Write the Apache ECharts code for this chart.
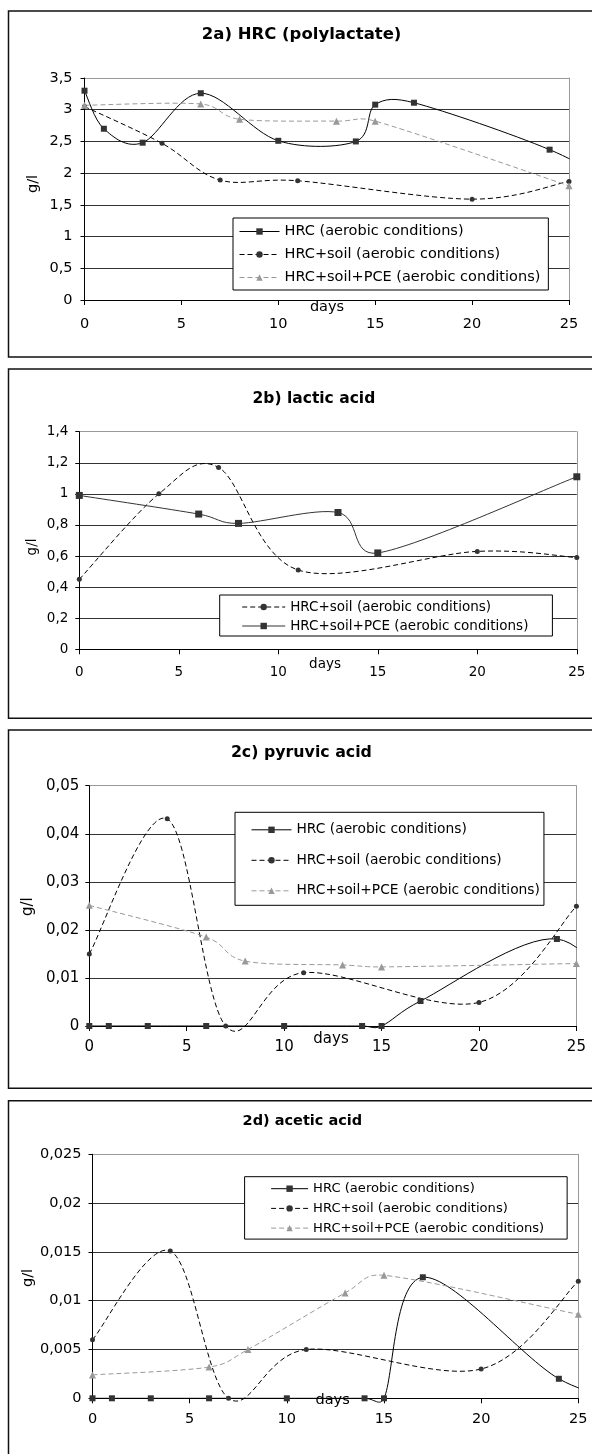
<!DOCTYPE html>
<html><head><meta charset="utf-8">
<script src="https://cdn.jsdelivr.net/npm/echarts@6/dist/echarts.min.js"></script>
<style>body{margin:0;background:#fff}.p{position:absolute;left:0;width:592px}</style>
</head><body>
<div id="c1" class="p" style="top:0;height:363px"></div>
<div id="c2" class="p" style="top:363px;height:361px"></div>
<div id="c3" class="p" style="top:724px;height:370px"></div>
<div id="c4" class="p" style="top:1094px;height:360px"></div>
<script>
// ---- data ----
const xTicks = [0, 5, 10, 15, 20, 25];
const daysHRC = [0, 1, 3, 6, 10, 14, 15, 17, 24, 28];
const daysSoil = [0, 4, 7, 11, 20, 25];
const daysPCE = [0, 6, 8, 13, 15, 25];

const nameHRC = 'HRC (aerobic conditions)';
const nameSoil = 'HRC+soil (aerobic conditions)';
const namePCE = 'HRC+soil+PCE (aerobic conditions)';

const titles = ['2a) HRC (polylactate)', '2b) lactic acid', '2c) pyruvic acid', '2d) acetic acid'];
const xName = 'days';
const yName = 'g/l';

// 2a
const yTicksA = [0, 0.5, 1, 1.5, 2, 2.5, 3, 3.5];
const hrcA = [3.3, 2.7, 2.48, 3.26, 2.51, 2.5, 3.08, 3.11, 2.37, 1.7];
const soilA = [3.05, 2.47, 1.89, 1.88, 1.59, 1.87];
const pceA = [3.07, 3.09, 2.85, 2.82, 2.82, 1.8];
// 2b
const yTicksB = [0, 0.2, 0.4, 0.6, 0.8, 1, 1.2, 1.4];
const soilB = [0.45, 1.0, 1.17, 0.51, 0.63, 0.59];
const pceB = [0.99, 0.87, 0.81, 0.88, 0.62, 1.11];
// 2c
const yTicksC = [0, 0.01, 0.02, 0.03, 0.04, 0.05];
const hrcC = [0, 0, 0, 0, 0, 0, 0, 0.0052, 0.0181, 0];
const soilC = [0.015, 0.0431, 0, 0.0111, 0.0049, 0.0249];
const pceC = [0.0251, 0.0185, 0.0135, 0.0127, 0.0123, 0.013];
// 2d
const yTicksD = [0, 0.005, 0.01, 0.015, 0.02, 0.025];
const hrcD = [0, 0, 0, 0, 0, 0, 0, 0.0124, 0.002, 0];
const soilD = [0.006, 0.0151, 0, 0.005, 0.003, 0.012];
const pceD = [0.0024, 0.0032, 0.005, 0.0108, 0.0126, 0.0086];

// ---- styles ----
const FONT = '"DejaVu Sans", sans-serif';
const DASH = [5, 3];
const STY = {
  hrc: {symbol: 'rect', symbolSize: 6, line: {color: '#000', width: 1, type: 'solid'}, itemStyle: {color: '#333'}},
  soil: {symbol: 'circle', symbolSize: 5, line: {color: '#000', width: 1, type: DASH}, itemStyle: {color: '#333'}},
  pce: {symbol: 'triangle', symbolSize: 7, line: {color: '#999', width: 1, type: DASH}, itemStyle: {color: '#999'}},
  pceSolid: {symbol: 'rect', symbolSize: 7, line: {color: '#333', width: 1, type: 'solid'}, itemStyle: {color: '#333'}}
};

function pairs(xs, ys) { return xs.map((x, i) => [x, ys[i]]); }
function fmt(v) { return String(+(+v).toFixed(4)).replace('.', ','); }
function dist(a, b) { return Math.hypot(b[0] - a[0], b[1] - a[1]); }

// Excel-like smoothed bezier through pixel points
function smoothPath(P) {
  let d = 'M' + P[0][0] + ' ' + P[0][1];
  for (let i = 0; i < P.length - 1; i++) {
    const p0 = P[i - 1] || P[i], p1 = P[i], p2 = P[i + 1], p3 = P[i + 2] || P[i + 1];
    const d02 = dist(p0, p2), d12 = dist(p1, p2), d13 = dist(p1, p3);
    const f1 = (d02 / 6 < d12 / 2 || d02 === 0) ? 1 / 6 : d12 / (2 * d02);
    const f2 = (d13 / 6 < d12 / 2 || d13 === 0) ? 1 / 6 : d12 / (2 * d13);
    const b1 = [p1[0] + (p2[0] - p0[0]) * f1, p1[1] + (p2[1] - p0[1]) * f1];
    const b2 = [p2[0] - (p3[0] - p1[0]) * f2, p2[1] - (p3[1] - p1[1]) * f2];
    d += ' C' + b1[0] + ' ' + b1[1] + ' ' + b2[0] + ' ' + b2[1] + ' ' + p2[0] + ' ' + p2[1];
  }
  return d;
}

function panel(id, c) {
  const chart = echarts.init(document.getElementById(id));
  const t = c.yTicks;
  const yMin = t[0], yMax = t[t.length - 1], yInt = +(t[1] - t[0]).toFixed(6);
  const gridColors = t.map((v, i) => i === t.length - 1 ? '#999' : '#333');
  const series = [];
  c.series.forEach((s, k) => {
    const st = STY[s.sty];
    const data = pairs(s.x, s.y);
    // smoothed curve
    series.push({
      type: 'custom', name: 'curve' + k, data: data, silent: true, animation: false, z: 1,
      renderItem: function (params, api) {
        if (params.dataIndex !== 0) return null;
        const P = data.map(p => api.coord(p));
        const cs = params.coordSys;
        return {
          type: 'path', shape: {pathData: smoothPath(P)},
          style: {fill: 'none', stroke: st.line.color, lineWidth: st.line.width,
                  lineDash: st.line.type === 'solid' ? null : st.line.type},
          clipPath: {type: 'rect', shape: {x: cs.x - 1, y: cs.y - 6, width: cs.width + 1.5, height: cs.height + 14}}
        };
      }
    });
    // markers
    series.push({
      type: 'line', name: s.name, data: data, smooth: false,
      symbol: st.symbol, symbolSize: st.symbolSize, itemStyle: st.itemStyle,
      lineStyle: {color: st.line.color, width: st.line.width, type: st.line.type, opacity: 0},
      showSymbol: true, showAllSymbol: true, clip: true, animation: false, z: 2,
      emphasis: {disabled: true}
    });
  });
  chart.setOption({
    animation: false,
    grid: {left: c.grid[0], top: c.grid[1], width: c.grid[2], height: c.grid[3]},
    xAxis: {
      type: 'value', min: xTicks[0], max: xTicks[xTicks.length - 1], interval: xTicks[1] - xTicks[0],
      axisLine: {onZero: false, lineStyle: {color: '#000', width: 1}},
      axisTick: {show: true, length: 5, lineStyle: {color: '#000'}},
      axisLabel: {margin: c.xMargin, fontSize: c.tick, fontFamily: FONT, color: '#000'},
      splitLine: {show: false}
    },
    yAxis: [{
      type: 'value', min: yMin, max: yMax, interval: yInt,
      axisLine: {show: true, lineStyle: {color: '#000', width: 1}},
      axisTick: {show: true, length: 4, lineStyle: {color: '#000'}},
      axisLabel: {margin: c.yMargin, fontSize: c.tick, fontFamily: FONT, color: '#000', formatter: fmt},
      splitLine: {show: true, lineStyle: {color: gridColors, width: 1}}
    }, {
      type: 'value', position: 'right', min: yMin, max: yMax, interval: yInt,
      axisLine: {show: true, lineStyle: {color: '#999', width: 1}},
      axisTick: {show: false}, axisLabel: {show: false}, splitLine: {show: false}
    }],
    legend: {
      orient: 'vertical', left: c.leg.left, top: c.leg.top, padding: c.leg.pad,
      itemGap: c.leg.gap, itemWidth: c.leg.iw, itemHeight: 8,
      borderColor: '#000', borderWidth: 1, backgroundColor: '#fff',
      textStyle: {fontSize: c.leg.fs, fontFamily: FONT, color: '#000', lineHeight: c.leg.lh},
      selectedMode: false,
      data: c.series.map(s => {
        const st = STY[s.sty];
        return {name: s.name, lineStyle: {color: st.line.color, width: st.line.width, type: st.line.type, opacity: 1}};
      })
    },
    graphic: [
      {type: 'rect', shape: {x: 8.5, y: c.box[0], width: 640, height: c.box[1]},
       style: {fill: 'none', stroke: '#111', lineWidth: 1.5}, silent: true},
      {type: 'text', x: c.title[0], y: c.title[1], silent: true,
       style: {text: c.titleText, textAlign: 'center', textVerticalAlign: 'middle',
               font: 'bold ' + c.title[2] + 'px ' + FONT, fill: '#000'}},
      {type: 'text', x: c.days[0], y: c.days[1], silent: true, z: 10,
       style: {text: xName, textAlign: 'center', textVerticalAlign: 'middle',
               font: c.tick + 'px ' + FONT, fill: '#000'}},
      {type: 'text', x: c.gl[0], y: c.gl[1], rotation: Math.PI / 2, silent: true,
       style: {text: yName, textAlign: 'center', textVerticalAlign: 'middle',
               font: c.tick + 'px ' + FONT, fill: '#000'}}
    ],
    series: series
  });
}

panel('c1', {
  yTicks: yTicksA, grid: [84.5, 78, 484.5, 222], xMargin: 17, yMargin: 12, tick: 14.5,
  box: [11, 346], title: [301.6, 35, 16.5], titleText: titles[0], days: [327, 307], gl: [33, 184],
  leg: {left: 233, top: 218, pad: [5, 8, 4, 6], gap: 6, iw: 40, fs: 14.5, lh: 17},
  series: [
    {name: nameHRC, x: daysHRC, y: hrcA, sty: 'hrc'},
    {name: nameSoil, x: daysSoil, y: soilA, sty: 'soil'},
    {name: namePCE, x: daysPCE, y: pceA, sty: 'pce'}
  ]
});
panel('c2', {
  yTicks: yTicksB, grid: [79.3, 68.7, 497.5, 217.6], xMargin: 16, yMargin: 11, tick: 13.5,
  box: [6, 349.3], title: [313.9, 36.3, 15.5], titleText: titles[1], days: [325, 301], gl: [32, 184],
  leg: {left: 219.7, top: 232, pad: [4, 24, 2, 22], gap: 3, iw: 43, fs: 13.5, lh: 16},
  series: [
    {name: nameSoil, x: daysSoil, y: soilB, sty: 'soil'},
    {name: namePCE, x: daysPCE, y: pceB, sty: 'pceSolid'}
  ]
});
panel('c3', {
  yTicks: yTicksC, grid: [89.3, 61.7, 487.1, 240.3], xMargin: 14, yMargin: 10, tick: 15,
  box: [6, 358.3], title: [301.4, 28.7, 15.8], titleText: titles[2], days: [331, 315], gl: [28.3, 182.7],
  leg: {left: 235, top: 88.3, pad: [9, 4, 6, 16], gap: 13.5, iw: 40, fs: 13.8, lh: 17},
  series: [
    {name: nameHRC, x: daysHRC, y: hrcC, sty: 'hrc'},
    {name: nameSoil, x: daysSoil, y: soilC, sty: 'soil'},
    {name: namePCE, x: daysPCE, y: pceC, sty: 'pce'}
  ]
});
panel('c4', {
  yTicks: yTicksD, grid: [92.5, 60.3, 485.8, 244], xMargin: 13, yMargin: 11, tick: 14.5,
  box: [6.7, 400], title: [302.4, 27, 14.5], titleText: titles[3], days: [332.6, 306], gl: [28.3, 184],
  leg: {left: 244.6, top: 82.7, pad: [4, 23, 3, 26], gap: 3.7, iw: 37, fs: 13.1, lh: 16},
  series: [
    {name: nameHRC, x: daysHRC, y: hrcD, sty: 'hrc'},
    {name: nameSoil, x: daysSoil, y: soilD, sty: 'soil'},
    {name: namePCE, x: daysPCE, y: pceD, sty: 'pce'}
  ]
});
</script>
</body></html>
